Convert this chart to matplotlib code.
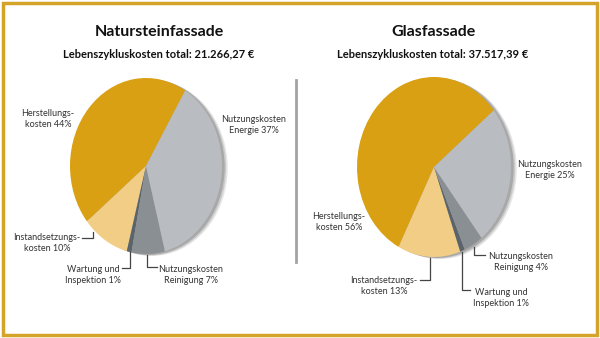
import matplotlib.pyplot as plt
from matplotlib.patches import Rectangle, Ellipse
from matplotlib.lines import Line2D

plt.rcParams['font.family'] = ['DejaVu Sans Condensed', 'Lato', 'DejaVu Sans']

# data
titles = ["Natursteinfassade", "Glasfassade"]
totals = ["Lebenszykluskosten total: 21.266,27 €", "Lebenszykluskosten total: 37.517,39 €"]
categories = ["Herstellungskosten", "Instandsetzungskosten", "Wartung und Inspektion",
              "Nutzungskosten Reinigung", "Nutzungskosten Energie"]
stone_values = [44, 10, 1, 7, 37]
glass_values = [56, 13, 1, 4, 25]
stone_labels = ["Herstellungs-\nkosten 44%", "Instandsetzungs-\nkosten 10%", "Wartung und\nInspektion 1%",
                "Nutzungskosten\nReinigung 7%", "Nutzungskosten\nEnergie 37%"]
glass_labels = ["Herstellungs-\nkosten 56%", "Instandsetzungs-\nkosten 13%", "Wartung und\nInspektion 1%",
                "Nutzungskosten\nReinigung 4%", "Nutzungskosten\nEnergie 25%"]
colors = ["#D9A013", "#F2CD86", "#5C646B", "#8A8F94", "#B9BCC0"]

W, H = 600, 338
fig = plt.figure(figsize=(6, 3.38), dpi=100)
fig.patch.set_facecolor("white")

# pie geometry in pixels: center x, center y, radius x, radius y, start angle, title center x
pies = [
    dict(cx=146, cy=166, rx=76, ry=88, start=59, title_x=159, values=stone_values, labels=stone_labels,
         label_pos=[(48, 119), (47, 243), (93, 275), (191, 275), (254, 125)],
         leaders=[None, [(82, 238), (93, 238), (93, 232)], [(122, 268), (130, 268), (130, 252)],
                  [(147, 255), (147, 267), (157, 267)], None]),
    dict(cx=434, cy=167, rx=77, ry=90, start=39, title_x=433, values=glass_values, labels=glass_labels,
         label_pos=[(339, 222), (384, 286), (501, 298), (521, 262), (550, 170)],
         leaders=[None, [(420, 280), (430, 280), (430, 258)], [(470, 290), (462, 290), (462, 252)],
                  [(485, 255), (474, 255), (474, 247)], None]),
]

for i, p in enumerate(pies):
    ax = fig.add_axes([0, 0, 1, 1])
    ax.patch.set_alpha(0)
    cx, cy, rx, ry = p["cx"], p["cy"], p["rx"], p["ry"]

    def px(x, y):
        return (x - cx) / rx, (cy - y) / ry

    # soft shadow on the right side
    for k, a in enumerate([0.12, 0.16, 0.22]):
        d = 0.075 - k * 0.02
        ax.add_patch(Ellipse((d, -d * 0.3), 2.0, 2.0, color="#333333", alpha=a,
                             lw=0, zorder=1))

    ax.pie(p["values"], colors=colors, startangle=p["start"], counterclock=True,
           wedgeprops=dict(linewidth=0, zorder=2), normalize=True)

    ax.set_aspect("auto")
    ax.set_xlim((0 - cx) / rx, (W - cx) / rx)
    ax.set_ylim(-(H - cy) / ry, cy / ry)
    ax.axis("off")

    # titles
    tx, ty = px(p["title_x"], 32)
    ax.text(tx, ty, titles[i], ha="center", va="center", fontsize=11.5, fontweight="bold",
            color="#111111")
    tx, ty = px(p["title_x"], 55)
    ax.text(tx, ty, totals[i], ha="center", va="center", fontsize=8, fontweight="bold",
            color="#111111")

    # labels
    for lab, (lx, ly) in zip(p["labels"], p["label_pos"]):
        x, y = px(lx, ly)
        ax.text(x, y, lab, ha="center", va="center", fontsize=6.5, color="#333333", linespacing=1.3)

    for pts in p["leaders"]:
        if pts is None:
            continue
        xs, ys = zip(*[px(a, b) for a, b in pts])
        ax.plot(xs, ys, color="#444444", lw=0.9, zorder=5)

# separator line between the two charts
fig.add_artist(Line2D([296 / W, 296 / W], [1 - 80 / H, 1 - 262 / H], color="#A3A3A3", lw=2))

# golden frame
fig.add_artist(Rectangle((3 / W, 3 / H), (W - 6) / W, (H - 6) / H, fill=False,
                         edgecolor="#D4A42A", lw=2.5, transform=fig.transFigure))

fig.savefig("out.png", dpi=100, facecolor="white")
